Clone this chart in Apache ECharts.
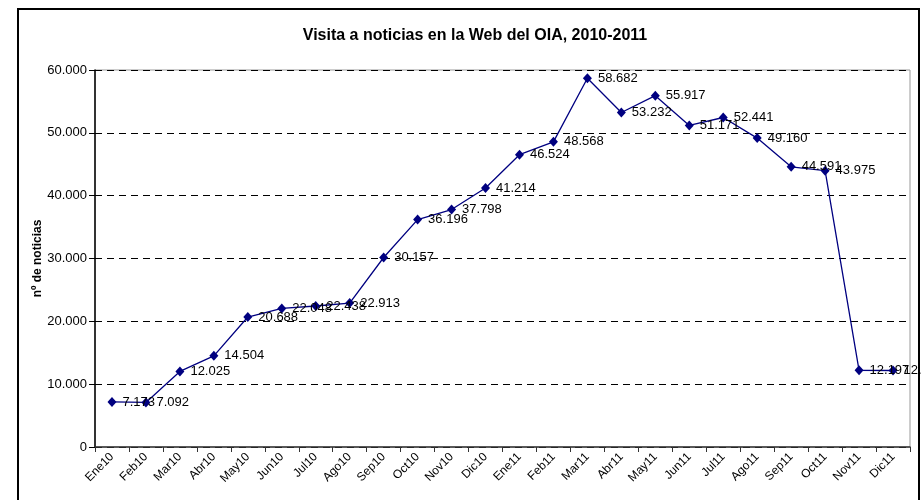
<!DOCTYPE html>
<html>
<head>
<meta charset="utf-8">
<title>Visita a noticias en la Web del OIA</title>
<script src="https://cdn.jsdelivr.net/npm/echarts@6/dist/echarts.min.js"></script>
<style>
  html, body { margin: 0; padding: 0; background: #fff; }
  #chart { width: 922px; height: 500px; }
</style>
</head>
<body>
<div id="chart"></div>
<script>
// meses (categorías del eje X)
const months = [
  'Ene10', 'Feb10', 'Mar10', 'Abr10', 'May10', 'Jun10', 'Jul10', 'Ago10', 'Sep10', 'Oct10', 'Nov10', 'Dic10',
  'Ene11', 'Feb11', 'Mar11', 'Abr11', 'May11', 'Jun11', 'Jul11', 'Ago11', 'Sep11', 'Oct11', 'Nov11', 'Dic11'
]
// visitas a noticias por mes
const visits = [
  7173, 7092, 12025, 14504, 20688, 22048, 22438, 22913, 30157, 36196, 37798, 41214,
  46524, 48568, 58682, 53232, 55917, 51171, 52441, 49160, 44591, 43975, 12197, 12175
]
const yTicks = [0, 10000, 20000, 30000, 40000, 50000, 60000]

// formato con punto de miles
const fmt = (v) => String(v).replace(/\B(?=(\d{3})+(?!\d))/g, '.')

const font = 'Liberation Sans, Arial, sans-serif'
const myChart = echarts.init(document.getElementById('chart'), null, { renderer: 'canvas' })
const option = {
  backgroundColor: '#fff',
  animation: false,
  title: {
    text: 'Visita a noticias en la Web del OIA, 2010-2011',
    left: 470,
    textAlign: 'center',
    top: 23,
    textStyle: { fontFamily: font, fontSize: 16, fontWeight: 'bold', color: '#000' }
  },
  graphic: [
    {
      type: 'rect',
      shape: { x: 18, y: 9, width: 901, height: 520 },
      style: { fill: 'none', stroke: '#000', lineWidth: 2 },
      silent: true
    }
  ],
  grid: {
    left: 95,
    right: 12,
    top: 70,
    bottom: 53,
    show: true,
    borderColor: '#999',
    borderWidth: 1
  },
  xAxis: {
    type: 'category',
    data: months,
    boundaryGap: true,
    axisLine: { lineStyle: { color: '#333', width: 1.5 } },
    axisTick: { show: true, length: 5, inside: false, lineStyle: { color: '#333' } },
    axisLabel: {
      rotate: 45,
      interval: 0,
      margin: 8,
      fontFamily: font,
      fontSize: 12,
      color: '#000'
    },
    splitLine: { show: false }
  },
  yAxis: {
    type: 'value',
    min: yTicks[0],
    max: yTicks[yTicks.length - 1],
    interval: 10000,
    name: 'nº de noticias',
    nameLocation: 'middle',
    nameGap: 51,
    nameMoveOverlap: false,
    nameTextStyle: { fontFamily: font, fontSize: 12, fontWeight: 'bold', color: '#000' },
    axisLine: { show: true, lineStyle: { color: '#000', width: 1.5 } },
    axisTick: { show: true, length: 6, lineStyle: { color: '#000' } },
    axisLabel: {
      margin: 8,
      fontFamily: font,
      fontSize: 13,
      color: '#000',
      formatter: (v) => fmt(v)
    },
    splitLine: { show: true, lineStyle: { color: '#000', type: [7, 5], width: 1 } }
  },
  series: [
    {
      name: 'Visitas',
      type: 'line',
      data: visits,
      symbol: 'diamond',
      symbolSize: [9, 10],
      itemStyle: { color: '#000080' },
      lineStyle: { color: '#000080', width: 1.3 },
      label: {
        show: true,
        position: 'right',
        distance: 6,
        fontFamily: font,
        fontSize: 13,
        color: '#000',
        formatter: (p) => fmt(p.value)
      }
    }
  ]
}
myChart.setOption(option)
</script>
</body>
</html>
